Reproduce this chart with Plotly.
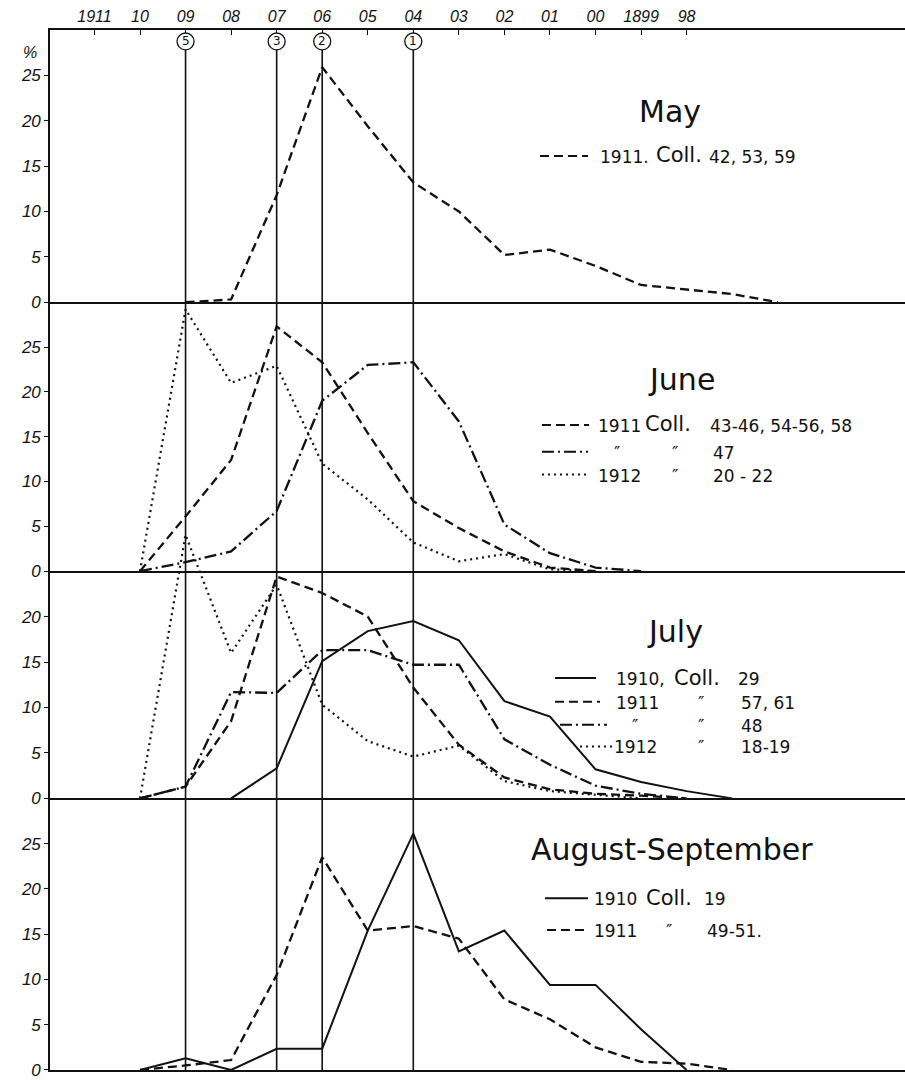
import plotly.graph_objects as go

# ---------------------------------------------------------------- data
YEAR_TICKS = list(range(1911, 1897, -1))
YEAR_LABELS = ["1911", "10", "09", "08", "07", "06", "05", "04",
               "03", "02", "01", "00", "1899", "98"]

REF_YEARS = [1909, 1907, 1906, 1904]
REF_LABELS = ["5", "3", "2", "1"]

# May
may_years = list(range(1909, 1895, -1))
may_1911 = [0, 0.3, 11.8, 25.9, 19.4, 13.2, 10.0, 5.2, 5.8, 4.0, 1.9, 1.4, 0.9, 0]

# June
june_1911_years = list(range(1910, 1899, -1))
june_1911 = [0, 6.1, 12.4, 27.3, 23.3, 15.4, 7.8, 4.8, 2.2, 0.4, 0]
june_1911_47_years = list(range(1910, 1898, -1))
june_1911_47 = [0, 1.0, 2.2, 6.7, 19.0, 23.0, 23.3, 16.7, 5.2, 2.0, 0.4, 0]
june_1912_years = list(range(1910, 1899, -1))
june_1912 = [0, 29.2, 21.0, 22.9, 12.0, 8.0, 3.2, 1.1, 1.9, 0.2, 0]

# July
july_1910_years = list(range(1908, 1896, -1))
july_1910 = [0, 3.3, 15.1, 18.4, 19.5, 17.4, 10.7, 9.0, 3.2, 1.8, 0.8, 0]
july_1911_years = list(range(1910, 1897, -1))
july_1911 = [0, 1.3, 8.5, 24.4, 22.6, 20.0, 12.2, 5.9, 2.3, 1.0, 0.5, 0.3, 0]
july_1911_48_years = list(range(1910, 1897, -1))
july_1911_48 = [0, 1.3, 11.7, 11.6, 16.3, 16.3, 14.7, 14.7, 6.5, 3.7, 1.4, 0.5, 0]
july_1912_years = list(range(1910, 1898, -1))
july_1912 = [0, 29.0, 16.0, 23.5, 10.3, 6.3, 4.6, 5.8, 1.9, 0.8, 0.4, 0]

# August-September
aug_1910_years = list(range(1910, 1897, -1))
aug_1910 = [0, 1.3, 0, 2.35, 2.35, 15.4, 26.1, 13.1, 15.4, 9.4, 9.4, 4.5, 0]
aug_1911_years = list(range(1910, 1896, -1))
aug_1911 = [0, 0.5, 1.1, 10.5, 23.5, 15.4, 15.9, 14.5, 7.8, 5.6, 2.5, 0.9, 0.7, 0]

# ---------------------------------------------------------------- layout helpers
W, H = 905, 1080
ML, MR, MT, MB = 50, 0, 30, 2
PX_PER_YEAR = 45.55


def pxx(x):
    return (x - ML) / (W - ML - MR)


def pxy(y):
    return (H - MB - y) / (H - MT - MB)


dom_may = [pxy(304.3), 1.0]
dom_june = [pxy(575.3), pxy(304.3)]
dom_july = [pxy(804.3), pxy(575.3)]
dom_aug = [0.0, pxy(804.3)]
# taller axis sharing the July scale, so a July curve can rise into June
dom_july_ext = [dom_july[0], dom_june[1]]
july_ext_top = 25 * (dom_july_ext[1] - dom_july_ext[0]) / (dom_july[1] - dom_july[0])

X_RANGE = [1911.976, 1893.205]

INK = "#111"
DASH = "9px,5px"
DASHDOT = "12px,4px,2px,4px"
DOT = "2px,4px"
STYLES = {"solid": "solid", "dash": DASH, "dashdot": DASHDOT, "dot": DOT}

fig = go.Figure()


def add_line(xs, ys, style, xa, ya, width=2.3):
    fig.add_trace(go.Scatter(
        x=xs, y=ys, mode="lines", xaxis=xa, yaxis=ya,
        line=dict(color=INK, width=width, dash=STYLES[style]),
        showlegend=False, hoverinfo="skip"))


add_line(may_years, may_1911, "dash", "x", "y")

add_line(june_1911_years, june_1911, "dash", "x2", "y2")
add_line(june_1911_47_years, june_1911_47, "dashdot", "x2", "y2")
add_line(june_1912_years, june_1912, "dot", "x2", "y2", width=2.2)

add_line(july_1910_years, july_1910, "solid", "x3", "y3", width=2.0)
add_line(july_1911_years, july_1911, "dash", "x3", "y3")
add_line(july_1911_48_years, july_1911_48, "dashdot", "x3", "y3")
add_line(july_1912_years, july_1912, "dot", "x3", "y5", width=2.2)

add_line(aug_1910_years, aug_1910, "solid", "x4", "y4", width=2.0)
add_line(aug_1911_years, aug_1911, "dash", "x4", "y4")

ITALIC = dict(family="Liberation Sans", size=17, color=INK, style="italic")

xaxis_common = dict(range=X_RANGE, showgrid=False, zeroline=False,
                    showline=True, linecolor=INK, linewidth=1.6,
                    fixedrange=True)
yaxis_common = dict(showgrid=False, zeroline=False, showline=True,
                    linecolor=INK, linewidth=1.6, ticks="outside", ticklen=4,
                    tickcolor=INK, tickwidth=1.4, tickfont=ITALIC,
                    fixedrange=True)

fig.update_layout(
    width=W, height=H,
    margin=dict(l=ML, r=MR, t=MT, b=MB, pad=0),
    paper_bgcolor="white", plot_bgcolor="rgba(0,0,0,0)",
    xaxis=dict(xaxis_common, anchor="y", side="top", mirror=True,
               ticks="inside", ticklen=5, tickcolor=INK, tickwidth=1.4,
               tickvals=YEAR_TICKS, ticktext=YEAR_LABELS,
               tickfont=dict(ITALIC, size=16)),
    xaxis2=dict(xaxis_common, anchor="y2", side="bottom", showticklabels=False),
    xaxis3=dict(xaxis_common, anchor="y3", side="bottom", showticklabels=False),
    xaxis4=dict(xaxis_common, anchor="y4", side="bottom", showticklabels=False),
    yaxis=dict(yaxis_common, domain=dom_may, anchor="x", range=[0, 30],
               tickvals=[0, 5, 10, 15, 20, 25]),
    yaxis2=dict(yaxis_common, domain=dom_june, anchor="x2", range=[0, 30],
                tickvals=[0, 5, 10, 15, 20, 25]),
    yaxis3=dict(yaxis_common, domain=dom_july, anchor="x3", range=[0, 25],
                tickvals=[0, 5, 10, 15, 20]),
    yaxis4=dict(yaxis_common, domain=dom_aug, anchor="x4", range=[0, 30],
                tickvals=[0, 5, 10, 15, 20, 25]),
    yaxis5=dict(domain=dom_july_ext, anchor="x3", range=[0, july_ext_top],
                visible=False, fixedrange=True),
)

shapes = []
annotations = []

# vertical reference lines with circled numbers
r_yr = 8.5 / PX_PER_YEAR
for yr, lab in zip(REF_YEARS, REF_LABELS):
    shapes.append(dict(type="line", xref="x", yref="paper", x0=yr, x1=yr,
                       y0=0, y1=pxy(50), line=dict(color=INK, width=1.6)))
    shapes.append(dict(type="circle", xref="x", yref="paper",
                       x0=yr - r_yr, x1=yr + r_yr, y0=pxy(50), y1=pxy(33),
                       line=dict(color=INK, width=1.3), fillcolor="white"))
    annotations.append(dict(text=lab, x=yr, xref="x", y=pxy(41.5), yref="paper",
                            showarrow=False, xanchor="center", yanchor="middle",
                            font=dict(family="DejaVu Sans", size=12, color=INK)))

annotations.append(dict(text="%", x=pxx(30), y=pxy(53), xref="paper", yref="paper",
                        showarrow=False, xanchor="center", yanchor="middle",
                        font=dict(ITALIC, size=16)))

TITLE_FONT = dict(family="DejaVu Sans", size=30, color=INK)
SMALL = dict(family="DejaVu Sans", size=17, color=INK)
COLL = dict(family="DejaVu Sans", size=21, color=INK)


def text(s, x, y, font):
    annotations.append(dict(text=s, x=pxx(x), y=pxy(y), xref="paper", yref="paper",
                            showarrow=False, xanchor="left", yanchor="middle",
                            font=font))


def sample(style, x0, x1, y, width=2.0):
    shapes.append(dict(type="line", xref="paper", yref="paper",
                       x0=pxx(x0), x1=pxx(x1), y0=pxy(y), y1=pxy(y),
                       line=dict(color=INK, width=width, dash=STYLES[style])))


def title(s, xc, y):
    annotations.append(dict(text=s, x=pxx(xc), y=pxy(y), xref="paper", yref="paper",
                            showarrow=False, xanchor="center", yanchor="middle",
                            font=TITLE_FONT))


DITTO = "\u2033"

# May key
title("May", 670, 112)
sample("dash", 540, 588, 157)
text("1911.", 598, 158, SMALL)
text("Coll.", 654, 156, COLL)
text("42, 53, 59", 707, 158, SMALL)

# June key
title("June", 681, 382)
sample("dash", 542, 589, 428)
text("1911", 596, 429, SMALL)
text("Coll.", 643, 427, COLL)
text("43-46, 54-56, 58", 708, 429, SMALL)
sample("dashdot", 542, 588, 455)
text(DITTO, 612, 456, SMALL)
text(DITTO, 670, 456, SMALL)
text("47", 711, 456, SMALL)
sample("dot", 542, 589, 478)
text("1912", 596, 479, SMALL)
text(DITTO, 670, 479, SMALL)
text("20 - 22", 711, 479, SMALL)

# July key
title("July", 675, 636)
sample("solid", 555, 596, 683)
text("1910,", 614, 684, SMALL)
text("Coll.", 672, 683, COLL)
text("29", 736, 684, SMALL)
sample("dash", 555, 600, 707)
text("1911", 614, 708, SMALL)
text(DITTO, 696, 708, SMALL)
text("57, 61", 739, 708, SMALL)
sample("dashdot", 560, 607, 730)
text(DITTO, 630, 731, SMALL)
text(DITTO, 696, 731, SMALL)
text("48", 739, 731, SMALL)
sample("dot", 580, 612, 752)
text("1912", 612, 753, SMALL)
text(DITTO, 696, 753, SMALL)
text("18-19", 739, 753, SMALL)

# August-September key
title("August-September", 672, 856)
sample("solid", 545, 588, 905)
text("1910", 592, 906, SMALL)
text("Coll.", 644, 905, COLL)
text("19", 702, 906, SMALL)
sample("dash", 547, 589, 937)
text("1911", 592, 938, SMALL)
text(DITTO, 664, 938, SMALL)
text("49-51.", 705, 938, SMALL)

fig.update_layout(shapes=shapes, annotations=annotations)

fig.write_html("out.html")
